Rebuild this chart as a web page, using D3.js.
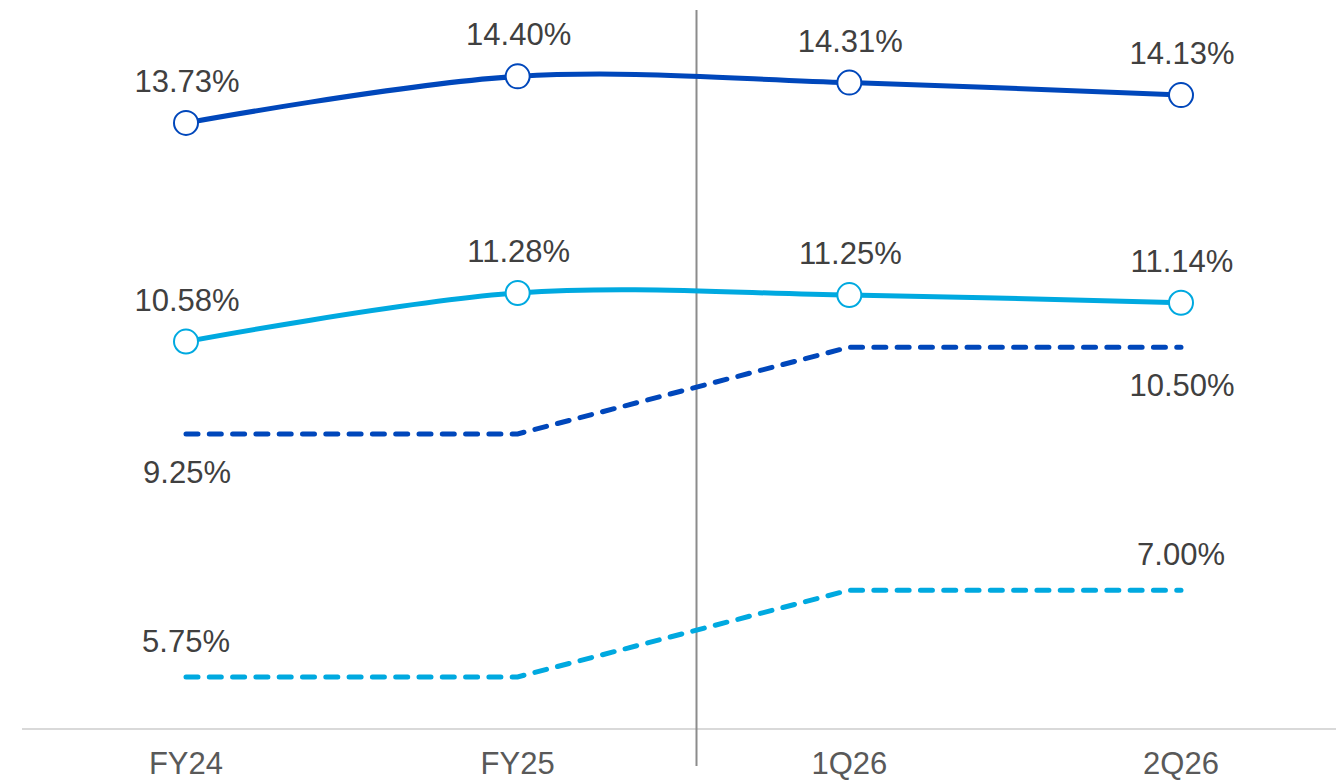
<!DOCTYPE html>
<html>
<head>
<meta charset="utf-8">
<script src="https://cdn.jsdelivr.net/npm/d3@7"></script>
<style>
	html, body { margin: 0; padding: 0; background: #fff; }
	svg { display: block; font-family: "Liberation Sans", Arial, sans-serif; }
</style>
</head>
<body>
<svg id="chart" width="1336" height="780"></svg>
<script>
// Periods on the x axis
const periods = ["FY24", "FY25", "1Q26", "2Q26"];
// Solid series (actual ratios)
const dark = [13.73, 14.40, 14.31, 14.13];
const light = [10.58, 11.28, 11.25, 11.14];
// Dashed series (requirements)
const darkReq = [9.25, 9.25, 10.50, 10.50];
const lightReq = [5.75, 5.75, 7.00, 7.00];
// Which points of the dashed series get a label
const darkReqLabels = [0, 3];
const lightReqLabels = [0, 3];

const darkBlue = "#0047bb";
const lightBlue = "#00a9e0";
const fontSize = 31;

function draw() {
	let svg = d3.select("#chart");

	let x = d3.scalePoint()
		.domain(periods)
		.range([186, 1181]);
	let y = d3.scaleLinear()
		.domain([5, 15.5])
		.range([729, 0]);

	// baseline
	svg.append("line")
		.attr("x1", 22).attr("x2", 1336)
		.attr("y1", 729).attr("y2", 729)
		.attr("stroke", "#d9d9d9")
		.attr("stroke-width", 2);

	// divider between years and quarters
	const divX = (x("FY25") + x("1Q26")) / 2 + 13;
	svg.append("line")
		.attr("x1", divX).attr("x2", divX)
		.attr("y1", 10).attr("y2", 766)
		.attr("stroke", "#8c8c8c")
		.attr("stroke-width", 2);

	// x axis labels
	svg.append("g")
		.selectAll("text")
		.data(periods)
		.enter().append("text")
		.attr("x", d => x(d))
		.attr("y", 774)
		.attr("text-anchor", "middle")
		.attr("font-size", fontSize)
		.attr("fill", "#595959")
		.text(d => d);

	const curved = d3.line()
		.x((d, i) => x(periods[i]))
		.y(d => y(d))
		.curve(d3.curveCardinal.tension(0));
	const straight = d3.line()
		.x((d, i) => x(periods[i]))
		.y(d => y(d));

	// dashed requirement lines
	[[darkReq, darkBlue], [lightReq, lightBlue]].forEach(([vals, col]) => {
		svg.append("path")
			.attr("d", straight(vals))
			.attr("fill", "none")
			.attr("stroke", col)
			.attr("stroke-width", 5)
			.attr("stroke-linecap", "round")
			.attr("stroke-dasharray", "12,11.3");
	});

	// solid lines with markers
	[[dark, darkBlue], [light, lightBlue]].forEach(([vals, col]) => {
		svg.append("path")
			.attr("d", curved(vals))
			.attr("fill", "none")
			.attr("stroke", col)
			.attr("stroke-width", 5);
		svg.append("g")
			.selectAll("circle")
			.data(vals)
			.enter().append("circle")
			.attr("cx", (d, i) => x(periods[i]))
			.attr("cy", d => y(d))
			.attr("r", 12)
			.attr("fill", "#fff")
			.attr("stroke", col)
			.attr("stroke-width", 2);
		svg.append("g")
			.selectAll("text")
			.data(vals)
			.enter().append("text")
			.attr("x", (d, i) => x(periods[i]) + 1)
			.attr("y", d => y(d) - 31)
			.attr("text-anchor", "middle")
			.attr("font-size", fontSize)
			.attr("fill", "#404040")
			.text(d => d.toFixed(2) + "%");
	});

	// dashed line labels: dark below, light above
	svg.append("g")
		.selectAll("text")
		.data(darkReqLabels)
		.enter().append("text")
		.attr("x", i => x(periods[i]) + 1)
		.attr("y", i => y(darkReq[i]) + 49)
		.attr("text-anchor", "middle")
		.attr("font-size", fontSize)
		.attr("fill", "#404040")
		.text(i => darkReq[i].toFixed(2) + "%");
	svg.append("g")
		.selectAll("text")
		.data(lightReqLabels)
		.enter().append("text")
		.attr("x", i => x(periods[i]))
		.attr("y", i => y(lightReq[i]) - 25)
		.attr("text-anchor", "middle")
		.attr("font-size", fontSize)
		.attr("fill", "#404040")
		.text(i => lightReq[i].toFixed(2) + "%");
}

if (document.readyState !== "loading") {
	draw();
} else {
	document.addEventListener("DOMContentLoaded", draw);
}
</script>
</body>
</html>
